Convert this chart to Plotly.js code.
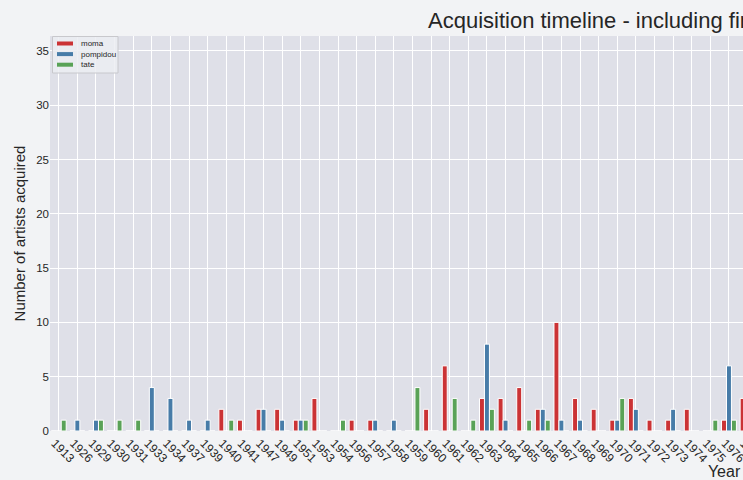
<!DOCTYPE html>
<html>
<head>
<meta charset="utf-8">
<script src="https://cdn.plot.ly/plotly-3.0.1.min.js"></script>
<style>
html,body{margin:0;padding:0;overflow:hidden;background:#f2f3f5;}
#chart{width:1516px;height:480px;}
</style>
</head>
<body>
<div id="chart"></div>
<script>
const years = ["1913","1926","1929","1930","1931","1933","1934","1937","1939","1940","1941","1947","1949","1951","1953","1954","1956","1957","1958","1959","1960","1961","1962","1963","1964","1965","1966","1967","1968","1969","1970","1971","1972","1973","1974","1975","1976","1977"];
const moma =     [0,0,0,0,0,0,0,0,0,2,1,2,2,1,3,0,1,1,0,0,2,6,0,3,3,4,2,10,3,2,1,3,1,1,2,0,1,3];
const pompidou = [0,1,1,0,0,4,3,1,1,0,0,2,1,1,0,0,0,1,1,0,0,0,0,8,1,0,2,1,1,0,1,2,0,2,0,0,6,0];
const tate =     [1,0,1,1,1,0,0,0,0,1,0,0,0,1,0,1,0,0,0,4,0,3,1,2,0,1,1,0,0,0,3,0,0,0,0,1,1,0];
const seriesNames = ["moma","pompidou","tate"];
const seriesColors = ["#cb3335","#477ca8","#59a257"];
const yTicks = [0,5,10,15,20,25,30,35];

const values = [moma, pompidou, tate];
const traces = values.map((v,i)=>({
  type:'bar', name:seriesNames[i], x:years, y:v,
  marker:{color:seriesColors[i], line:{color:'#ffffff', width:1}},
  showlegend:false
}));

const W = 1516, H = 480;
const L = 50, R = 20, T = 36, B = 49;
const PW = W - L - R, PH = H - T - B;
// pixel -> paper helpers for the legend box
const px = x => (x - L) / PW;
const py = y => 1 - (y - T) / PH;

const shapes = [{type:'rect', xref:'paper', yref:'paper', x0:px(52.5), x1:px(118), y0:py(73), y1:py(36.5),
                 fillcolor:'rgba(236,237,242,0.85)', line:{color:'#c8c8cc', width:1}}];
const annotations = [];
seriesNames.forEach((n,i)=>{
  const yc = 43.5 + i*10.6;
  shapes.push({type:'rect', xref:'paper', yref:'paper', x0:px(57), x1:px(73), y0:py(yc+2), y1:py(yc-2),
               fillcolor:seriesColors[i], line:{width:0}});
  annotations.push({text:n, xref:'paper', yref:'paper', x:px(79), y:py(yc), xanchor:'left', yanchor:'middle',
                    showarrow:false, font:{size:8, color:'#262626'}});
});

const layout = {
  width:W, height:H,
  paper_bgcolor:'#f2f3f5', plot_bgcolor:'#dfe0e8',
  font:{family:'"Liberation Sans", Arial, sans-serif', color:'#262626'},
  margin:{l:L, r:R, t:T, b:B},
  barmode:'group', bargap:0.2, bargroupgap:0,
  title:{text:'Acquisition timeline - including first acquisitions', font:{size:22, color:'#262626'},
         xref:'container', x:428/W, xanchor:'left', yref:'container', y:1-20/H, yanchor:'middle'},
  xaxis:{type:'category', range:[-0.47, 77.2], tickangle:45, tickfont:{size:12, color:'#262626'},
         showgrid:true, gridcolor:'#ffffff', gridwidth:1, zeroline:false, ticks:'', showline:false,
         ticklabelshift:-4, ticklabelstandoff:2,
         title:{text:'Year of acquisition', font:{size:16, color:'#262626'}, standoff:2}},
  yaxis:{range:[0,36.38], tickvals:yTicks, tickfont:{size:11.5, color:'#262626'},
         showgrid:true, gridcolor:'#ffffff', gridwidth:1, zeroline:false, ticks:'', showline:false,
         title:{text:'Number of artists acquired', font:{size:15, color:'#262626'}, standoff:6}},
  shapes:shapes, annotations:annotations,
  showlegend:false
};
Plotly.newPlot('chart', traces, layout, {displayModeBar:false, staticPlot:true});
</script>
</body>
</html>
